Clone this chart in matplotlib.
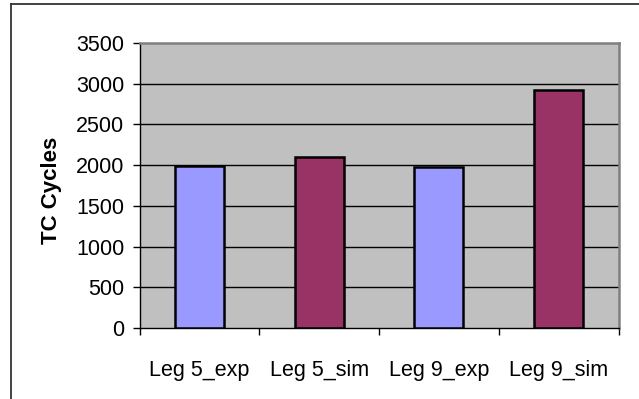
import matplotlib
matplotlib.use("Agg")
import matplotlib.pyplot as plt
from matplotlib.lines import Line2D

# Thermal-cycle counts per leg, experiment vs. simulation
categories = ["Leg 5_exp", "Leg 5_sim", "Leg 9_exp", "Leg 9_sim"]
cycles = [1995, 2100, 1975, 2925]
bar_colors = ["#9999FF", "#993366", "#9999FF", "#993366"]
y_ticks = [0, 500, 1000, 1500, 2000, 2500, 3000, 3500]

plt.rcParams["font.family"] = ["Liberation Sans", "DejaVu Sans"]

W, H = 639, 399
fig = plt.figure(figsize=(W / 100, H / 100), dpi=100)
fig.patch.set_facecolor("white")

# plot area in pixel units
left, right, top, bottom = 139.5, 618.5, 43, 328
ax = fig.add_axes([left / W, 1 - bottom / H, (right - left) / W, (bottom - top) / H])
ax.set_facecolor("#C0C0C0")

x = list(range(len(categories)))
ax.bar(x, cycles, width=0.41, color=bar_colors, edgecolor="black",
       linewidth=1.8, zorder=3)

ax.set_xlim(-0.5, len(categories) - 0.5)
ax.set_ylim(y_ticks[0], y_ticks[-1])

ax.set_yticks(y_ticks)
ax.set_yticklabels([str(v) for v in y_ticks], fontsize=15.5)
for v in y_ticks[1:-1]:
    ax.axhline(v, color="black", linewidth=1, zorder=1)

ax.set_xticks(x)
ax.set_xticklabels(categories, fontsize=15.5)
ax.set_xticks([i - 0.5 for i in range(len(categories) + 1)], minor=True)
ax.tick_params(axis="x", which="major", length=0, pad=23)
ax.tick_params(axis="x", which="minor", length=5, width=1, direction="out", color="black")
ax.tick_params(axis="y", length=5, width=1, direction="out", pad=6, color="black")

for side in ("top", "right"):
    ax.spines[side].set_color("#808080")
    ax.spines[side].set_linewidth(1.8)
for side in ("left", "bottom"):
    ax.spines[side].set_color("black")
    ax.spines[side].set_linewidth(1)

ax.set_ylabel("TC Cycles", fontsize=16, fontweight="bold", va="center")
ax.yaxis.set_label_coords((52 - left) / (right - left), (bottom - 190) / (bottom - top))

# chart frame (open to the right and bottom edges)
fx = 10.5 / W
fy = 1 - 3.5 / H
fig.add_artist(Line2D([fx, fx], [0, fy], transform=fig.transFigure, color="#333333", linewidth=1.3))
fig.add_artist(Line2D([fx, 1], [fy, fy], transform=fig.transFigure, color="#333333", linewidth=1.3))

fig.savefig("out.png", dpi=100)
